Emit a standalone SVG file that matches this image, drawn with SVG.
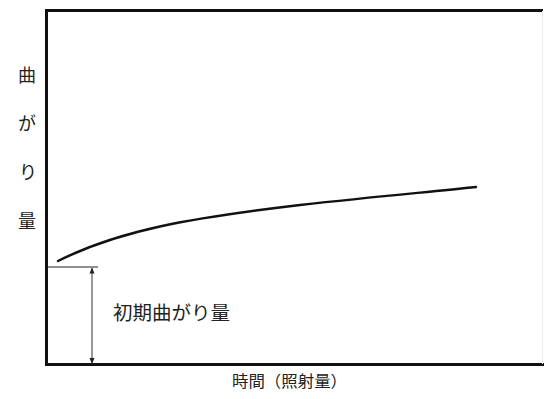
<svg xmlns="http://www.w3.org/2000/svg" width="544" height="399" viewBox="0 0 544 399">
<defs>
<marker id="ah" viewBox="0 0 6 6" refX="5.5" refY="3" markerWidth="6" markerHeight="6" orient="auto-start-reverse" markerUnits="userSpaceOnUse">
<path d="M0,0.5 L6,3 L0,5.5 Z" fill="#222"/>
</marker>
</defs>
<style>
.ax{stroke:#111;stroke-width:3;fill:none}
.thin{stroke:#222;stroke-width:1.2;fill:none}
.curve{stroke:#111;stroke-width:2.5;fill:none;stroke-linecap:round}
.t{font-family:"Liberation Serif","Noto Sans CJK JP",serif;fill:#222}
</style>
<rect width="544" height="399" fill="#fff"/>
<g id="frame">
<path class="ax" d="M46.5,11 L46.5,364.5 L544,364.5"/>
<path class="ax" d="M45,10.5 L543,10.5"/>
<line x1="542.5" y1="11" x2="542.5" y2="364" stroke="#eee" stroke-width="1"/>
</g>
<g id="yaxis-label" class="t" font-size="18" text-anchor="middle">
<text x="27" y="82">曲</text>
<text x="27" y="130">が</text>
<text x="28" y="179">り</text>
<text x="27" y="228">量</text>
</g>
<g id="xaxis-label">
<text class="t" x="232" y="387" font-size="16" textLength="115" lengthAdjust="spacingAndGlyphs">時間（照射量）</text>
</g>
<g id="curve">
<path class="curve" d="M58,261 C120,230 190,218 300,205 C380,196 430,192 476,187"/>
</g>
<g id="initial-bend">
<line class="thin" x1="47" y1="267" x2="98" y2="267"/>
<line x1="92" y1="268" x2="92" y2="363.5" stroke="#333" stroke-width="1" marker-start="url(#ah)" marker-end="url(#ah)"/>
<text class="t" x="113" y="320" font-size="19" textLength="117" lengthAdjust="spacingAndGlyphs">初期曲がり量</text>
</g>
</svg>
